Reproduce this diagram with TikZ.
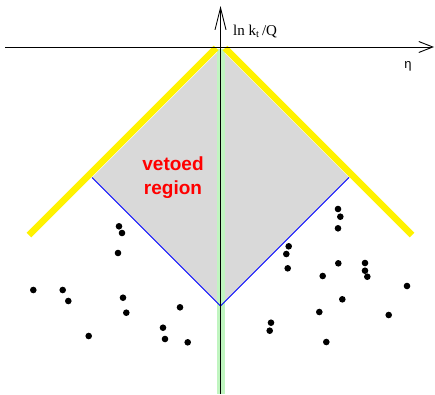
\documentclass[tikz,border=0pt]{standalone}
\usepackage{fontspec}
\setmainfont{Liberation Serif}
\newfontfamily\lsans{Liberation Sans}
\usetikzlibrary{arrows.meta}
\definecolor{vetogray}{RGB}{217,217,217}
\definecolor{bandgreen}{RGB}{192,245,192}
\definecolor{vetored}{RGB}{255,0,0}
\tikzset{
  axis/.style={line width=0.9pt,black},
  yellowline/.style={line width=6.5pt,yellow},
  blueline/.style={line width=0.8pt,blue},
  dot/.style={circle,fill=black,inner sep=0pt,minimum size=6.6pt},
}
\begin{document}
\begin{tikzpicture}[x=1pt,y=-1pt]
\useasboundingbox (0,0) rectangle (435,394);
% coordinates
\coordinate (top) at (220.5,49);
\coordinate (lft) at (92,177.5);
\coordinate (bot) at (220.5,306);
\coordinate (rgt) at (349,177.5);
% gray vetoed region
\fill[vetogray] (top) -- (lft) -- (bot) -- (rgt) -- cycle;
% green band
\fill[bandgreen] (216.5,49) rectangle (225,394);
% yellow lines
\coordinate (yl1) at (29,235);
\coordinate (yl2) at (216,48);
\coordinate (yr1) at (225,48);
\coordinate (yr2) at (412,235);
\draw[yellowline] (yl1) -- (yl2);
\draw[yellowline] (yr1) -- (yr2);
% blue lines
\draw[blueline] (lft) -- (bot) -- (rgt);
% axes
\coordinate (xs) at (5,47);
\coordinate (xe) at (434,47);
\coordinate (ys) at (220.5,394);
\coordinate (ye) at (220.5,6);
\draw[axis,-{Straight Barb[length=14pt,width=11pt]}] (xs) -- (xe);
\draw[axis,-{Straight Barb[length=22pt,width=11pt]}] (ys) -- (ye);
% labels
\node[anchor=base west,inner sep=0pt,font=\fontsize{15}{18}\selectfont] (ylab) at (233,35) {ln k$_{\mathrm{t}}$\,/Q};
\node[anchor=base,inner sep=0pt,font=\lsans\fontsize{13}{15}\selectfont] (xlab) at (408,68) {η};
\node[align=center,inner sep=0pt,text=vetored,font=\lsans\bfseries\fontsize{19}{24}\selectfont] (veto) at (173,178) {vetoed\\region};
% dots
\foreach \x/\y [count=\i] in {
 33.3/290, 62.7/290, 68.3/301, 119/226.3, 122/233, 118/253, 123/297.7,
 126.3/312.7, 88.7/336, 180/307.3, 163/327.7, 165/339, 187.7/342.3,
 338/209, 340.3/216.7, 338/228.3, 288.7/246.3, 286.3/254, 287.7/268.3,
 338.3/263.3, 322.7/276, 365/263, 365/270.7, 367.3/276.7, 407/286,
 342.3/299.3, 319.3/312, 388.7/315, 271/322.7, 269.7/330.7, 326.3/342}
 \node[dot] (d\i) at (\x,\y) {};
\end{tikzpicture}
\end{document}
